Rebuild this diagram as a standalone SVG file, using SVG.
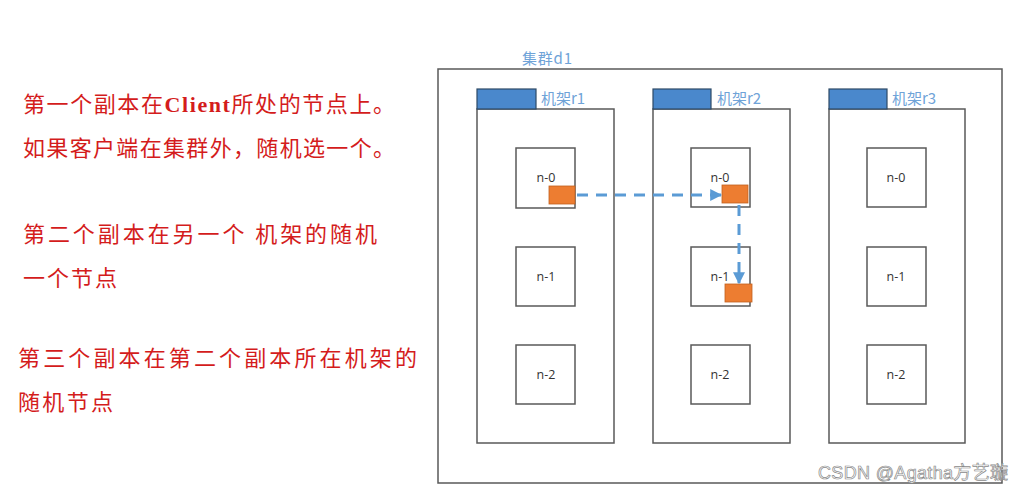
<svg xmlns="http://www.w3.org/2000/svg" width="1024" height="495" viewBox="0 0 1024 495">
<defs>
<style>
.note{font-family:"Noto Sans CJK SC","Noto Sans",sans-serif;font-size:22px;fill:#d41c1c}
.box{fill:#fff;stroke:#595959;stroke-width:1.5}
.tab{fill:#4a88cc;stroke:#2e4a66;stroke-width:1.2}
.lbl{font-family:"Noto Sans CJK SC","Noto Sans",sans-serif;font-size:15px;fill:#6fa3d8}
.nt{font-family:"Open Sans","Noto Sans",sans-serif;font-size:12.5px;fill:#333;text-anchor:middle}
.rep{fill:#ed7d31;stroke:#c0601e;stroke-width:0.8}
.con{stroke:#5b9bd5;stroke-width:3;fill:none;stroke-dasharray:11 8}
</style>
<marker id="ah" viewBox="0 0 10 10" refX="9" refY="5" markerWidth="4" markerHeight="4" orient="auto" markerUnits="strokeWidth">
<path d="M0,0 L10,5 L0,10 z" fill="#5b9bd5"/>
</marker>
</defs>
<rect width="1024" height="495" fill="#fff"/>
<g id="notes">
<text class="note" x="23" y="112" textLength="372" lengthAdjust="spacing">第一个副本在<tspan font-family="Liberation Serif,serif" font-weight="bold">Client</tspan>所处的节点上。</text>
<text class="note" x="23" y="156" textLength="372" lengthAdjust="spacing">如果客户端在集群外，随机选一个。</text>
<text class="note" x="23" y="242" textLength="354" lengthAdjust="spacing">第二个副本在另一个 机架的随机</text>
<text class="note" x="23" y="286" textLength="94" lengthAdjust="spacing">一个节点</text>
<text class="note" x="18" y="366" textLength="399" lengthAdjust="spacing">第三个副本在第二个副本所在机架的</text>
<text class="note" x="18" y="410" textLength="95" lengthAdjust="spacing">随机节点</text>
</g>
<g id="cluster-d1">
<rect class="box" x="438" y="69" width="564" height="414"/>
<text class="lbl" x="522" y="64" font-size="16" fill="#5b9bd5" textLength="50">集群d1</text>
</g>
<g id="rack-r1">
<rect class="box" x="477" y="109" width="137" height="334"/>
<rect class="tab" x="477" y="89" width="59" height="20"/>
<text class="lbl" x="541" y="104">机架r1</text>
</g>
<g id="rack-r2">
<rect class="box" x="653" y="109" width="137" height="334"/>
<rect class="tab" x="653" y="89" width="58" height="20"/>
<text class="lbl" x="717" y="104">机架r2</text>
</g>
<g id="rack-r3">
<rect class="box" x="829" y="109" width="136" height="334"/>
<rect class="tab" x="829" y="89" width="58" height="20"/>
<text class="lbl" x="892" y="104">机架r3</text>
</g>
<g id="r1-n0"><rect class="box" x="516" y="148" width="59" height="60"/><text class="nt" x="546" y="182">n-0</text><rect class="rep" x="549" y="186" width="26" height="18"/></g>
<g id="r1-n1"><rect class="box" x="516" y="247" width="59" height="59"/><text class="nt" x="546" y="281">n-1</text></g>
<g id="r1-n2"><rect class="box" x="516" y="345" width="59" height="59"/><text class="nt" x="546" y="379">n-2</text></g>
<g id="r2-n0"><rect class="box" x="691" y="148" width="59" height="59"/><text class="nt" x="720" y="182">n-0</text><rect class="rep" x="722" y="185" width="26" height="18"/></g>
<g id="r2-n1"><rect class="box" x="691" y="247" width="59" height="59"/><text class="nt" x="720" y="281">n-1</text><rect class="rep" x="725" y="284" width="27" height="18"/></g>
<g id="r2-n2"><rect class="box" x="691" y="345" width="59" height="59"/><text class="nt" x="720" y="379">n-2</text></g>
<g id="r3-n0"><rect class="box" x="867" y="148" width="59" height="59"/><text class="nt" x="896" y="182">n-0</text></g>
<g id="r3-n1"><rect class="box" x="867" y="247" width="59" height="59"/><text class="nt" x="896" y="281">n-1</text></g>
<g id="r3-n2"><rect class="box" x="867" y="345" width="59" height="59"/><text class="nt" x="896" y="379">n-2</text></g>
<g id="connectors">
<path class="con" d="M577,195 L721,195" marker-end="url(#ah)"/>
<path class="con" d="M739,205 L739,283" marker-end="url(#ah)"/>
</g>
<text x="818" y="479" font-family="Liberation Sans,Noto Sans CJK SC,sans-serif" font-size="18" fill="#fff" stroke="#8a8a8a" stroke-width="0.7" textLength="190">CSDN @Agatha方艺璇</text>
</svg>
